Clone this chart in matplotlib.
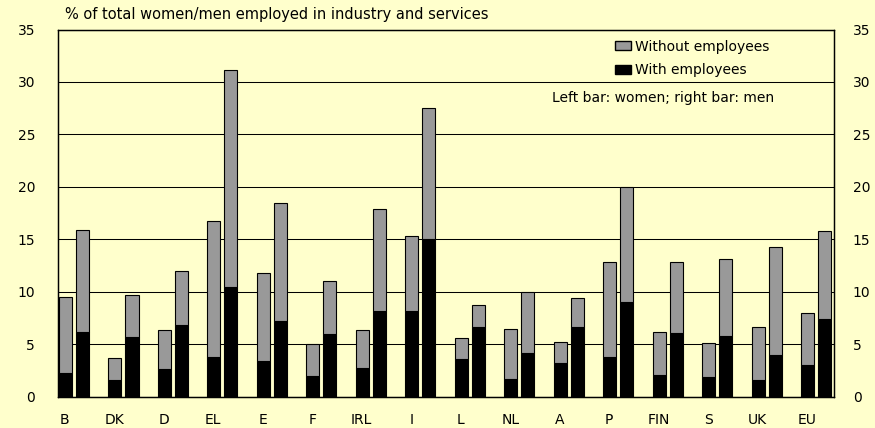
import numpy as np
import matplotlib
matplotlib.use("Agg")
import matplotlib.pyplot as plt
from matplotlib.patches import Patch
import matplotlib.transforms as mtransforms

countries = ["B", "DK", "D", "EL", "E", "F", "IRL", "I", "L", "NL", "A", "P", "FIN", "S", "UK", "EU"]
women_total = [9.5, 3.7, 6.4, 16.7, 11.8, 5.0, 6.4, 15.3, 5.6, 6.5, 5.2, 12.8, 6.2, 5.1, 6.6, 8.0]
women_with = [2.3, 1.6, 2.6, 3.8, 3.4, 2.0, 2.7, 8.2, 3.6, 1.7, 3.2, 3.8, 2.1, 1.9, 1.6, 3.0]
men_total = [15.9, 9.7, 12.0, 31.1, 18.5, 11.0, 17.9, 27.5, 8.7, 10.0, 9.4, 20.0, 12.8, 13.1, 14.3, 15.8]
men_with = [6.2, 5.7, 6.8, 10.5, 7.2, 6.0, 8.2, 15.0, 6.6, 4.2, 6.6, 9.0, 6.1, 5.8, 4.0, 7.4]
yticks = [0, 5, 10, 15, 20, 25, 30, 35]

women_without = np.array(women_total) - np.array(women_with)
men_without = np.array(men_total) - np.array(men_with)

bg = "#FFFFCC"
gray = "#999999"
plt.rcParams['font.family'] = ['DejaVu Sans']
fs = 10
lw = 0.8

fig = plt.figure(figsize=(8.75, 4.28), dpi=100, facecolor=bg)
ax = fig.add_axes([58 / 875, 1 - 396.7 / 428, (834 - 58) / 875, (396.7 - 29.5) / 428])
ax.set_facecolor(bg)

x = np.arange(len(countries))
off = 0.172
w = 0.27
ax.bar(x - off, women_with, w, color="black", edgecolor="black", linewidth=lw, zorder=3)
ax.bar(x - off, women_without, w, bottom=women_with, color=gray, edgecolor="black", linewidth=lw, zorder=3)
ax.bar(x + off, men_with, w, color="black", edgecolor="black", linewidth=lw, zorder=3)
ax.bar(x + off, men_without, w, bottom=men_with, color=gray, edgecolor="black", linewidth=lw, zorder=3)

ax.set_xlim(-0.32, 15.36)
ax.set_ylim(0, 35)
ax.set_yticks(yticks)
ax.yaxis.grid(True, color="black", linewidth=0.75, zorder=0)
ax.set_axisbelow(True)
ax.set_xticks(x)
ax.set_xticklabels(countries)
ax.tick_params(axis="x", length=0, pad=12, labelsize=fs)
ax.tick_params(axis="y", length=0, labelsize=fs, pad=16.5)
offset = mtransforms.ScaledTranslation(-9 / 100, 0, fig.dpi_scale_trans)
for t in ax.get_xticklabels():
    t.set_transform(t.get_transform() + offset)

ax2 = ax.twinx()
ax2.set_ylim(0, 35)
ax2.set_yticks(yticks)
ax2.tick_params(axis="y", length=0, labelsize=fs, pad=13.5)

for a in (ax, ax2):
    for s in a.spines.values():
        s.set_color("black")
        s.set_linewidth(0.9)

fig.text(65 / 875, 1 - 15 / 428, "% of total women/men employed in industry and services",
         fontsize=fs + 0.5, va="center", ha="left")

handles = [Patch(facecolor=gray, edgecolor="black", label="Without employees"),
           Patch(facecolor="black", edgecolor="black", label="With employees")]
leg = fig.legend(handles=handles, loc="upper left", bbox_to_anchor=(615 / 875, 1 - 39.5 / 428),
                 frameon=False, fontsize=fs, handlelength=1.15, handleheight=0.65,
                 handletextpad=0.3, labelspacing=0.7, borderpad=0, borderaxespad=0)
fig.text(663 / 875, 1 - 98 / 428, "Left bar: women; right bar: men",
         ha="center", va="center", fontsize=fs)

fig.savefig("out.png", dpi=100, facecolor=bg)
